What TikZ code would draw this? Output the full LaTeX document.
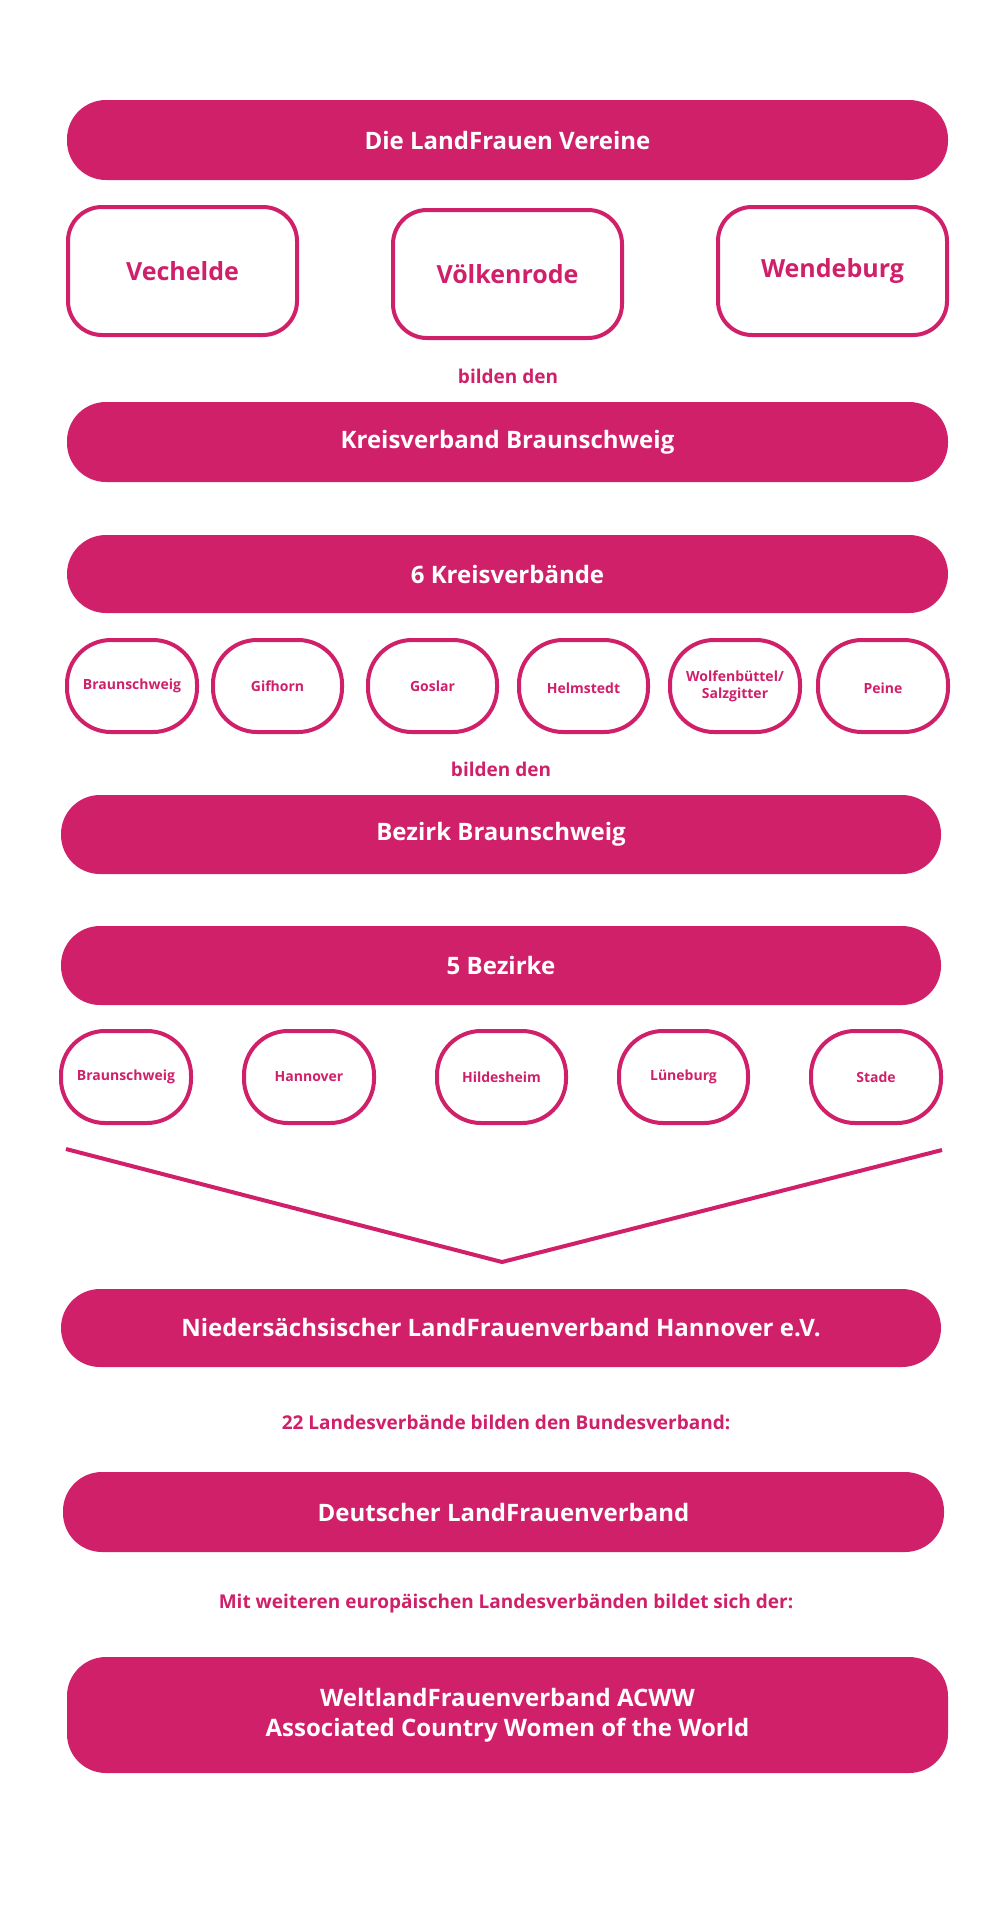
\documentclass[tikz,border=0pt]{standalone}
\usepackage{fontspec}
\setmainfont{Open Sans}
\definecolor{mag}{HTML}{D0206A}
\begin{document}
\begin{tikzpicture}[x=1pt,y=-1pt,
 bar/.style={fill=mag,rounded corners=39pt,text=white,font=\bfseries\fontsize{24}{30}\selectfont,align=center},
 box/.style={draw=mag,line width=4pt,fill=white,rounded corners=34pt,text=mag,font=\bfseries\fontsize{25}{30}\selectfont},
 pill/.style={draw=mag,line width=4pt,fill=white,rounded corners=44pt,text=mag,font=\bfseries\fontsize{14}{17}\selectfont,align=center},
 lbl/.style={text=mag,font=\bfseries\fontsize{19}{23}\selectfont},
 conn/.style={draw=mag,line width=4pt}]
\useasboundingbox (0,0) rectangle (1008,1920);
\fill[white] (0,0) rectangle (1008,1920);
\newcommand{\rbox}[6]{\path[#1] (#2,#3) rectangle (#4,#5) node[pos=.5,text=white] {};}
% bars
\path[bar] (67,100) rectangle (948,180) node[midway] (b1) {Die LandFrauen Vereine};
\path[box] (68,207) rectangle (297,335) node[midway] (v1) {Vechelde};
\path[box] (393,210) rectangle (622,338) node[midway] (v2) {Völkenrode};
\path[box] (718,207) rectangle (947,335) node[midway] (v3) {Wendeburg};
\node[lbl] (t1) at (508,376) {bilden den};
\path[bar] (67,402) rectangle (948,482) node[midway] (b2) {Kreisverband Braunschweig};
\path[bar] (67,535) rectangle (948,613) node[midway] (b3) {6 Kreisverbände};
\path[pill] (67,640) rectangle (197,732) node[midway] (k1) {Braunschweig};
\path[pill] (213,640) rectangle (342,732) node[midway] (k2) {Gifhorn};
\path[pill] (368,640) rectangle (497,732) node[midway] (k3) {Goslar};
\path[pill] (519,640) rectangle (648,732) node[midway,yshift=-2pt] (k4) {Helmstedt};
\path[pill] (670,640) rectangle (800,732) node[midway] (k5) {Wolfenbüttel/\\Salzgitter};
\path[pill] (818,640) rectangle (948,732) node[midway,yshift=-2pt] (k6) {Peine};
\node[lbl] (t2) at (501,769) {bilden den};
\path[bar] (61,795) rectangle (941,874) node[midway] (b4) {Bezirk Braunschweig};
\path[bar] (61,926) rectangle (941,1005) node[midway] (b5) {5 Bezirke};
\path[pill] (61,1031) rectangle (191,1123) node[midway] (z1) {Braunschweig};
\path[pill] (244,1031) rectangle (374,1123) node[midway] (z2) {Hannover};
\path[pill] (437,1031) rectangle (566,1123) node[midway] (z3) {Hildesheim};
\path[pill] (619,1031) rectangle (748,1123) node[midway] (z4) {Lüneburg};
\path[pill] (811,1031) rectangle (941,1123) node[midway] (z5) {Stade};
\coordinate (vl) at (66,1149);
\coordinate (vm) at (502,1262);
\coordinate (vr) at (942,1150);
\draw[conn] (vl) -- (vm) -- (vr);
\path[bar] (61,1289) rectangle (941,1367) node[midway] (b6) {Niedersächsischer LandFrauenverband Hannover e.V.};
\node[lbl] (t3) at (506,1422) {22 Landesverbände bilden den Bundesverband:};
\path[bar] (63,1472) rectangle (944,1552) node[midway] (b7) {Deutscher LandFrauenverband};
\node[lbl] (t4) at (506,1604) {Mit weiteren europäischen Landesverbänden bildet sich der:};
\path[bar] (67,1657) rectangle (948,1773) node[midway] (b8) {WeltlandFrauenverband ACWW\\Associated Country Women of the World};
\end{tikzpicture}
\end{document}
